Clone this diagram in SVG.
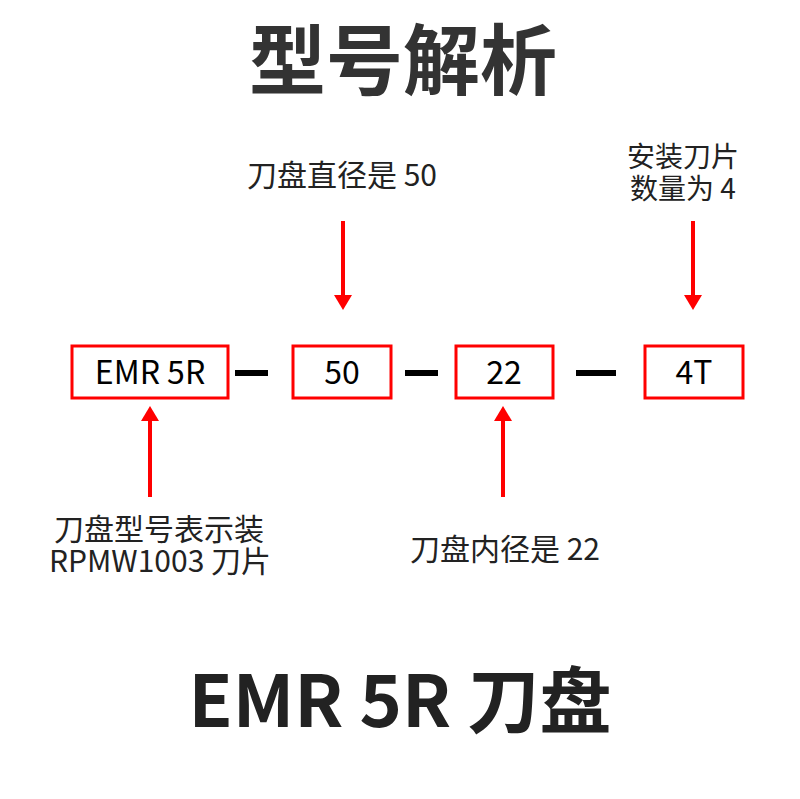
<svg xmlns="http://www.w3.org/2000/svg" width="800" height="799" viewBox="0 0 800 799">
<style>
text{font-family:"Noto Sans CJK SC","Noto Sans",sans-serif;text-anchor:middle}
.title{font-weight:bold;fill:#333;font-size:77px}
.big{font-weight:bold;fill:#222;font-size:72px}
.lbl{fill:#222;font-size:30px}
.sm{font-size:28px}
.box rect{fill:#fff;stroke:#f00;stroke-width:3}
.box text{fill:#000;font-size:32px}
.dash{stroke:#000;stroke-width:6}
.arr{stroke:#f00;stroke-width:4;fill:none;marker-end:url(#ah)}
</style>
<defs>
<marker id="ah" viewBox="0 0 15 18" refX="0" refY="9" markerWidth="15" markerHeight="18" markerUnits="userSpaceOnUse" orient="auto">
<polygon points="0,0 15,9 0,18" fill="#f00"/>
</marker>
</defs>
<rect width="800" height="799" fill="#fff"/>
<text class="title" x="403" y="89">型号解析</text>
<g id="label-diam"><text class="lbl" x="342" y="186">刀盘直径是 50</text></g>
<g id="label-count"><text class="lbl sm" x="683" y="167">安装刀片</text><text class="lbl sm" x="683" y="199">数量为 4</text></g>
<g id="node-emr" class="box"><rect x="72" y="346" width="156" height="52"/><text x="150" y="384">EMR 5R</text></g>
<g id="node-50" class="box"><rect x="293" y="346" width="98" height="52"/><text x="342" y="384">50</text></g>
<g id="node-22" class="box"><rect x="456" y="346" width="97" height="52"/><text x="504" y="384">22</text></g>
<g id="node-4t" class="box"><rect x="645" y="346" width="98" height="52"/><text x="694" y="384">4T</text></g>
<g id="connectors">
<line class="dash" x1="235" y1="373" x2="268" y2="373"/>
<line class="dash" x1="405" y1="373" x2="438" y2="373"/>
<line class="dash" x1="576" y1="373" x2="616" y2="373"/>
<line class="arr" x1="343" y1="221" x2="343" y2="295"/>
<line class="arr" x1="693" y1="221" x2="693" y2="295"/>
<line class="arr" x1="150" y1="497" x2="150" y2="421"/>
<line class="arr" x1="503" y1="497" x2="503" y2="421"/>
</g>
<g id="label-type"><text class="lbl" x="159" y="540">刀盘型号表示装</text><text class="lbl" x="160" y="572">RPMW1003 刀片</text></g>
<g id="label-inner"><text class="lbl" x="505" y="560">刀盘内径是 22</text></g>
<text class="big" x="400" y="727">EMR 5R 刀盘</text>
</svg>
